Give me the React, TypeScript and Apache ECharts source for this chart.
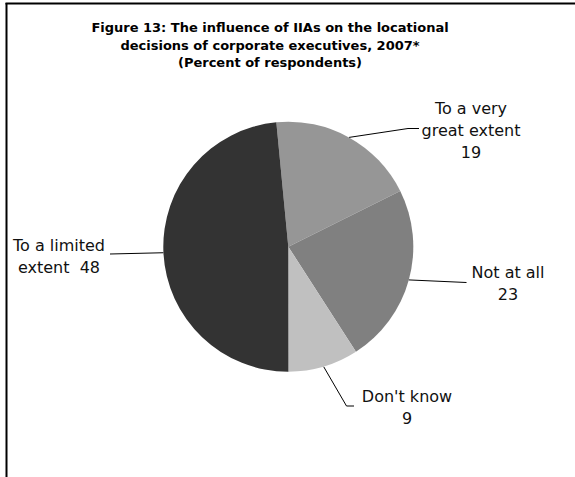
import React, { useEffect, useRef } from "react";
import * as echarts from "echarts";

const categories = ["To a very\ngreat extent", "Not at all", "Don't know", "To a limited\nextent"];
const values = [19, 23, 9, 48];
const separators = ["\n", "\n", "\n", "  "];
const colors = ["#969696", "#808080", "#c0c0c0", "#333333"];
const titleText =
  "Figure 13: The influence of IIAs on the locational\ndecisions of corporate executives, 2007*\n(Percent of respondents)";

// label placement (centre of text block) and elbow points of the leader lines
const labelPos: [number, number][] = [
  [471, 130],
  [508, 283],
  [407, 407.5],
  [59, 256],
];
const lineBends: [number, number][][] = [
  [[408, 128.5], [419, 128.5]],
  [[466.5, 282.5], [466.5, 282.5]],
  [[346.5, 406], [354, 406]],
  [[110, 254], [110, 254]],
];

export default function App() {
  const ref = useRef<HTMLDivElement>(null);
  useEffect(() => {
    document.body.style.margin = "0";
    const chart = echarts.init(ref.current!, null, { renderer: "svg" });
    const cx = 288.3;
    const cy = 246.7;
    const r = 125;
    chart.setOption({
      animation: false,
      backgroundColor: "#ffffff",
      title: {
        text: titleText,
        left: 265,
        top: 14,
        textAlign: "center",
        textStyle: {
          fontFamily: "DejaVu Sans",
          fontWeight: "bold",
          fontSize: 13,
          lineHeight: 17.5,
          color: "#000",
        },
      },
      graphic: [
        { type: "line", shape: { x1: 5.5, y1: 3.5, x2: 575, y2: 3.5 }, style: { stroke: "#000", lineWidth: 2 } },
        { type: "line", shape: { x1: 6.5, y1: 3, x2: 6.5, y2: 477 }, style: { stroke: "#000", lineWidth: 2 } },
      ],
      series: [
        {
          type: "pie",
          center: [cx, cy],
          radius: r,
          startAngle: 95.5,
          clockwise: true,
          data: values.map((v, i) => ({
            name: categories[i],
            value: v,
            itemStyle: { color: colors[i] },
          })),
          itemStyle: { borderWidth: 0 },
          label: {
            show: true,
            formatter: (p: any) => p.name + separators[p.dataIndex] + p.value,
            fontFamily: "DejaVu Sans",
            fontSize: 16,
            lineHeight: 22,
            color: "#111",
            align: "center",
          },
          labelLine: {
            show: true,
            lineStyle: { color: "#000", width: 1 },
          },
          labelLayout: (params: any) => {
            const i = params.dataIndex;
            let start = params.labelLinePoints && params.labelLinePoints[0];
            if (!start) {
              let acc = 0;
              const total = values.reduce((a, b) => a + b, 0);
              for (let k = 0; k < i; k++) acc += values[k];
              const mid = ((95.5 - ((acc + values[i] / 2) / total) * 360) * Math.PI) / 180;
              start = [cx + r * Math.cos(mid), cy - r * Math.sin(mid)];
            }
            return {
              x: labelPos[i][0],
              y: labelPos[i][1],
              align: "center",
              verticalAlign: "middle",
              labelLinePoints: [start, lineBends[i][0], lineBends[i][1]],
            };
          },
        },
      ],
    });
    return () => chart.dispose();
  }, []);
  return <div ref={ref} style={{ width: 575, height: 477 }} />;
}
